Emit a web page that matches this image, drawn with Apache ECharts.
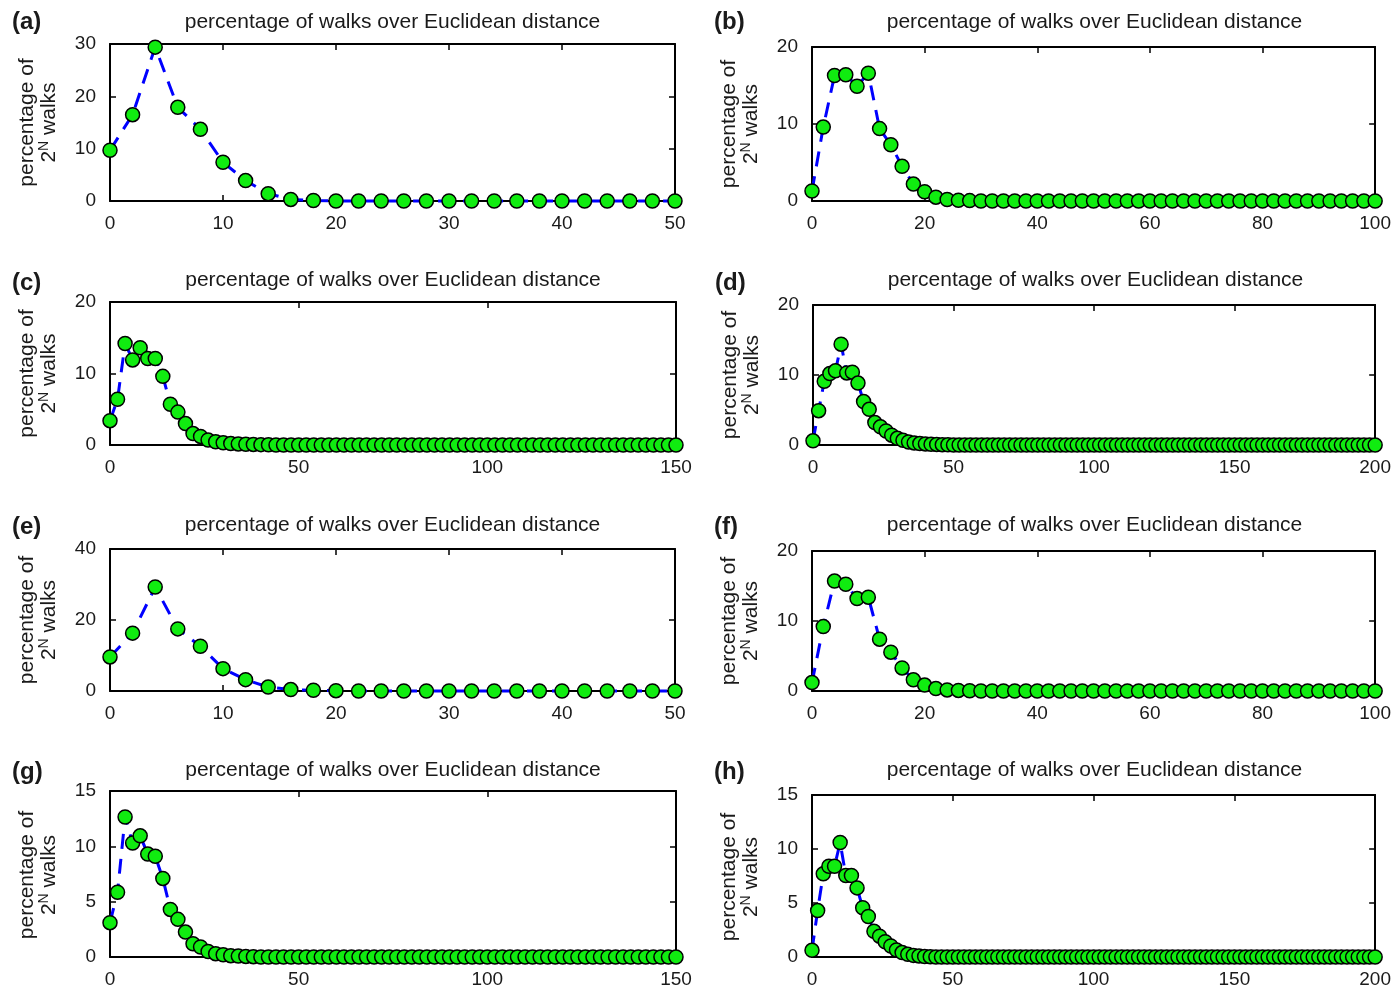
<!DOCTYPE html>
<html><head><meta charset="utf-8">
<script src="https://cdn.jsdelivr.net/npm/echarts@6/dist/echarts.min.js"></script>
<style>html,body{margin:0;padding:0;background:#fff}#c{width:1394px;height:989px}</style>
</head><body><div id="c"></div>
<script>
// ---- data (x step = 2 for every panel) ----
const xStep = 2;
const panelLabels = ['(a)','(b)','(c)','(d)','(e)','(f)','(g)','(h)'];
const titleText = 'percentage of walks over Euclidean distance';
const xMax = [50, 100, 150, 200, 50, 100, 150, 200];
const xTickInterval = [10, 20, 50, 50, 10, 20, 50, 50];
const yMax = [30, 20, 20, 20, 40, 20, 15, 15];
const yTickInterval = [10, 10, 10, 10, 20, 10, 5, 5];

const valuesA = [9.7,16.5,29.4,17.9,13.7,7.4,3.9,1.4,0.3,0.1,0,0,0,0,0,0,0,0,0,0,0,0,0,0,0,0];
const valuesB = [1.3,9.6,16.3,16.4,14.9,16.6,9.4,7.3,4.5,2.2,1.2,0.5,0.2,0.1,0.05,0,0,0,0,0,0,0,0,0,0,0,0,0,0,0,0,0,0,0,0,0,0,0,0,0,0,0,0,0,0,0,0,0,0,0,0];
const valuesC = [3.4,6.4,14.2,11.9,13.6,12.1,12.1,9.6,5.7,4.6,3.0,1.6,1.2,0.7,0.45,0.3,0.2,0.15,0.1,0.08,0.05,0.03,0,0,0,0,0,0,0,0,0,0,0,0,0,0,0,0,0,0,0,0,0,0,0,0,0,0,0,0,0,0,0,0,0,0,0,0,0,0,0,0,0,0,0,0,0,0,0,0,0,0,0,0,0,0];
const valuesD = [0.6,4.9,9.1,10.2,10.6,14.4,10.3,10.4,8.85,6.2,5.1,3.2,2.6,2.0,1.4,0.95,0.67,0.43,0.3,0.2,0.15,0.1,0.08,0.05,0.03,0,0,0,0,0,0,0,0,0,0,0,0,0,0,0,0,0,0,0,0,0,0,0,0,0,0,0,0,0,0,0,0,0,0,0,0,0,0,0,0,0,0,0,0,0,0,0,0,0,0,0,0,0,0,0,0,0,0,0,0,0,0,0,0,0,0,0,0,0,0,0,0,0,0,0,0];
const valuesE = [9.6,16.3,29.3,17.5,12.6,6.3,3.2,1.1,0.4,0.2,0.1,0,0,0,0,0,0,0,0,0,0,0,0,0,0,0];
const valuesF = [1.2,9.2,15.7,15.25,13.2,13.4,7.4,5.55,3.3,1.6,0.85,0.35,0.15,0.08,0.04,0,0,0,0,0,0,0,0,0,0,0,0,0,0,0,0,0,0,0,0,0,0,0,0,0,0,0,0,0,0,0,0,0,0,0,0];
const valuesG = [3.1,5.85,12.65,10.3,10.95,9.3,9.1,7.1,4.3,3.4,2.25,1.2,0.9,0.5,0.3,0.2,0.12,0.08,0.05,0.03,0,0,0,0,0,0,0,0,0,0,0,0,0,0,0,0,0,0,0,0,0,0,0,0,0,0,0,0,0,0,0,0,0,0,0,0,0,0,0,0,0,0,0,0,0,0,0,0,0,0,0,0,0,0,0,0];
const valuesH = [0.62,4.3,7.7,8.4,8.4,10.6,7.55,7.55,6.4,4.56,3.75,2.38,1.93,1.41,1.02,0.65,0.41,0.25,0.15,0.1,0.05,0.03,0,0,0,0,0,0,0,0,0,0,0,0,0,0,0,0,0,0,0,0,0,0,0,0,0,0,0,0,0,0,0,0,0,0,0,0,0,0,0,0,0,0,0,0,0,0,0,0,0,0,0,0,0,0,0,0,0,0,0,0,0,0,0,0,0,0,0,0,0,0,0,0,0,0,0,0,0,0,0];
const allValues = [valuesA, valuesB, valuesC, valuesD, valuesE, valuesF, valuesG, valuesH];

// ---- layout ----
const grids = [
  {left:110, top:44,  width:565, height:157},
  {left:812, top:47,  width:565, height:154},
  {left:110, top:302, width:566, height:143},
  {left:813, top:305, width:565, height:140},
  {left:110, top:549, width:565, height:142},
  {left:812, top:551, width:565, height:140},
  {left:110, top:791, width:566, height:168},
  {left:812, top:795, width:565, height:164}
];
const titleY = [22, 22, 280, 280, 525, 525, 770, 770];
const labelY = [22, 22, 283, 283, 527, 527, 772, 772];

const FONT = '"Liberation Sans", Arial, sans-serif';
const TXT = '#1a1a1a';

const xAxes = [], yAxes = [], series = [], graphics = [];
grids.forEach((g, i) => {
  const axisLine = {show:true, onZero:false, lineStyle:{color:'#000', width:2}};
  const tick = {show:true, inside:true, length:6, lineStyle:{color:'#000', width:1.5}};
  xAxes.push({type:'value', gridIndex:i, position:'bottom', min:0, max:xMax[i], interval:xTickInterval[i],
    axisLine, axisTick:tick, splitLine:{show:false},
    axisLabel:{show:true, fontFamily:FONT, fontSize:19, color:TXT, margin:13}});
  xAxes.push({type:'value', gridIndex:i, position:'top', min:0, max:xMax[i], interval:xTickInterval[i],
    axisLine, axisTick:tick, splitLine:{show:false}, axisLabel:{show:false}});
  yAxes.push({type:'value', gridIndex:i, position:'left', min:0, max:yMax[i], interval:yTickInterval[i],
    axisLine, axisTick:tick, splitLine:{show:false},
    axisLabel:{show:true, fontFamily:FONT, fontSize:19, color:TXT, margin:14}});
  yAxes.push({type:'value', gridIndex:i, position:'right', min:0, max:yMax[i], interval:yTickInterval[i],
    axisLine, axisTick:tick, splitLine:{show:false}, axisLabel:{show:false}});
  series.push({
    type:'line', xAxisIndex:2*i, yAxisIndex:2*i,
    data: allValues[i].map((v, k) => [k * xStep, v]),
    symbol:'circle', symbolSize:14, showAllSymbol:true,
    lineStyle:{color:'#0000ff', width:3, type:[15, 10]},
    itemStyle:{color:'#10ec10', borderColor:'#000', borderWidth:1.5},
    clip:false, silent:true
  });
  const cx = g.left + g.width / 2;
  const cy = g.top + g.height / 2;
  graphics.push({type:'text', x:cx, y:titleY[i],
    style:{text:titleText, fontFamily:FONT, fontSize:21, fill:TXT, align:'center', verticalAlign:'middle'}});
  graphics.push({type:'text', x:g.left - 98, y:labelY[i],
    style:{text:panelLabels[i], fontFamily:FONT, fontSize:24, fontWeight:'bold', fill:TXT, align:'left', verticalAlign:'middle'}});
  graphics.push({type:'group', x:g.left - 73, y:cy, rotation:Math.PI/2, children:[
    {type:'text', x:0, y:-10, style:{text:'percentage of', fontFamily:FONT, fontSize:21, fill:TXT, align:'center', verticalAlign:'middle'}},
    {type:'text', x:0, y:12, style:{text:'{a|2}{s|N}{a| walks}', align:'center', verticalAlign:'middle', fill:TXT,
      rich:{a:{fontFamily:FONT, fontSize:21, lineHeight:24, fill:TXT},
            s:{fontFamily:FONT, fontSize:14, lineHeight:13, verticalAlign:'top', fill:TXT}}}}
  ]});
});

const chart = echarts.init(document.getElementById('c'), null, {renderer:'canvas'});
chart.setOption({
  animation:false,
  backgroundColor:'#fff',
  grid: grids.map(g => Object.assign({containLabel:false}, g)),
  xAxis: xAxes, yAxis: yAxes, series, graphic: graphics
});
</script></body></html>
